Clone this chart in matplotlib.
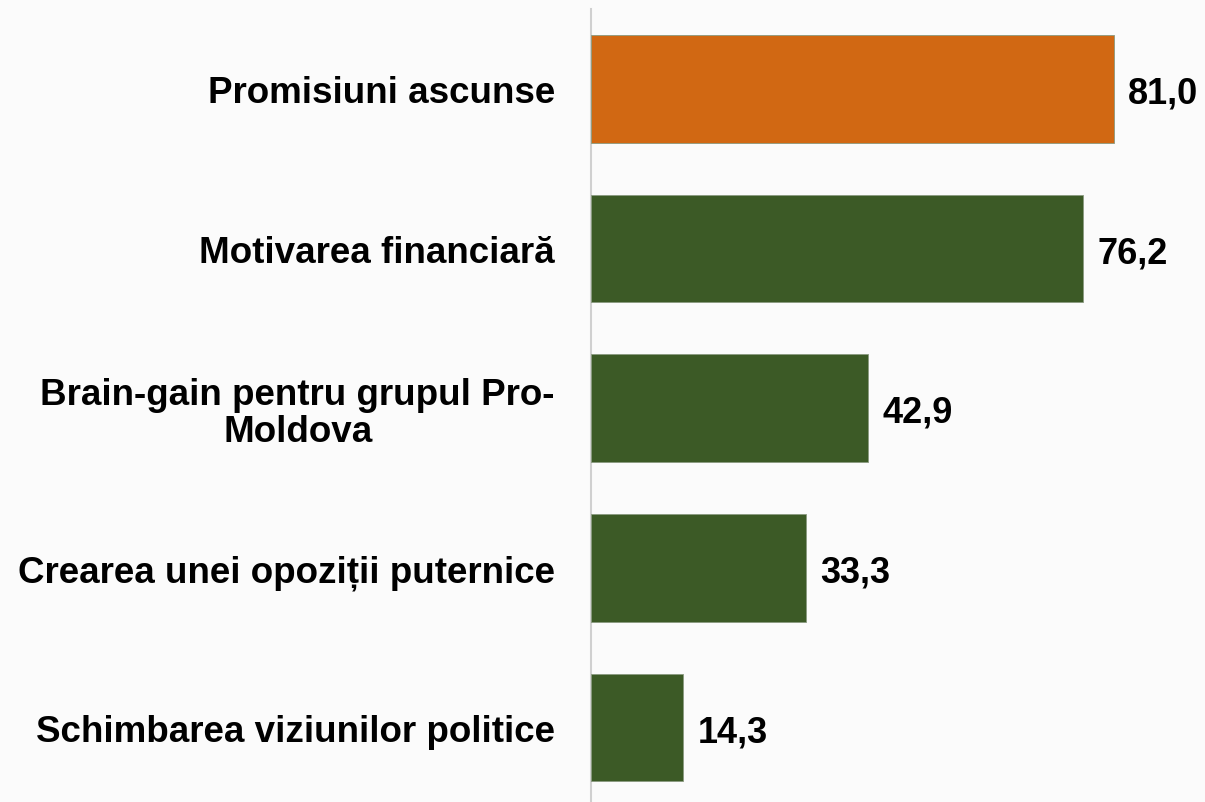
import matplotlib.pyplot as plt
import numpy as np

# data
labels = ["Promisiuni ascunse", "Motivarea financiară",
          "Brain-gain pentru grupul Pro-\nMoldova",
          "Crearea unei opoziții puternice", "Schimbarea viziunilor politice"]
values = [81.0, 76.2, 42.9, 33.3, 14.3]
colors = ["#D16813", "#3C5A26", "#3C5A26", "#3C5A26", "#3C5A26"]

plt.rcParams['font.family'] = ['Liberation Sans', 'DejaVu Sans']

fig = plt.figure(figsize=(12.05, 8.03), dpi=100, facecolor="#fbfbfb")

ax = fig.add_axes([0.4905, 0.0, 0.5095, 0.9875])
ax.patch.set_alpha(0)

y = np.arange(len(values))
ax.barh(y, values, height=0.675, color=colors, edgecolor="#8a9a80",
        linewidth=0.6, zorder=3)

for yi, v in zip(y, values):
    ax.text(v + 2.2, yi, f"{v:.1f}".replace(".", ","), va='center_baseline', ha='left',
            fontsize=26, fontweight='bold', color="black")

ax.set_yticks(y)
ax.set_yticklabels(labels, fontsize=26.5, fontweight='bold', multialignment='center',
                   linespacing=1.05)
ax.tick_params(axis='y', length=0, pad=26)
ax.set_xticks([])
ax.set_xlim(0, 95.1)
ax.set_ylim(4.466, -0.5)

for s in ['top', 'right', 'bottom']:
    ax.spines[s].set_visible(False)
ax.spines['left'].set_color("#d0d0d0")
ax.spines['left'].set_linewidth(1.5)

fig.savefig("out.png", dpi=100, facecolor=fig.get_facecolor())
